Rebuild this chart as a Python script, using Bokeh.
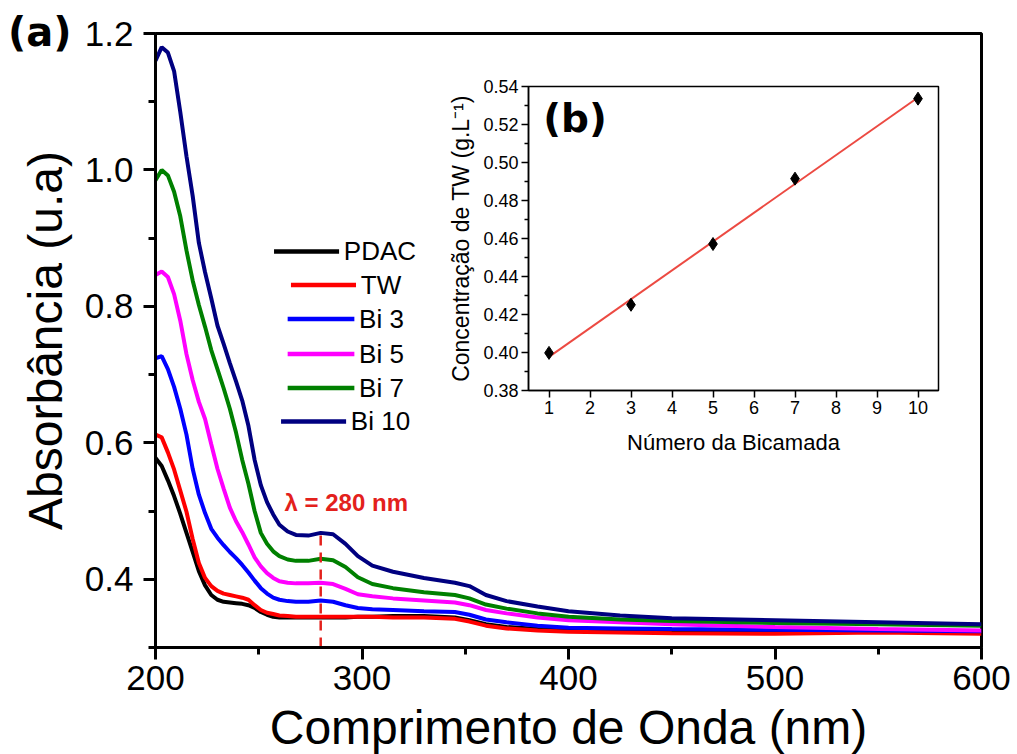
import numpy as np
from bokeh.plotting import figure
from bokeh.models import Range1d, FixedTicker, Label, GridBox, NumeralTickFormatter, Div
from bokeh.embed import file_html
from bokeh.resources import INLINE

# UV-Vis absorption spectra (wavelength in nm, absorbance in a.u.)
wavelength = [200, 203, 206, 209, 212, 215, 218, 221, 224, 227, 230, 233, 236, 239,
              242, 245, 248, 251, 254, 257, 260, 264, 268, 274, 280, 286, 292, 298,
              305, 315, 330, 345, 352, 360, 370, 385, 400, 425, 450, 500, 550, 600]

pdac = [0.578, 0.566, 0.545, 0.522, 0.496, 0.468, 0.440, 0.412, 0.391, 0.377, 0.370,
        0.367, 0.366, 0.365, 0.364, 0.362, 0.358, 0.352, 0.348, 0.345, 0.344,
        0.344, 0.344, 0.344, 0.344, 0.344, 0.344, 0.345, 0.345, 0.346, 0.346,
        0.344, 0.340, 0.334, 0.330, 0.327, 0.326, 0.325, 0.324, 0.323, 0.323, 0.322]
tw = [0.612, 0.608, 0.586, 0.561, 0.530, 0.499, 0.459, 0.424, 0.402, 0.390, 0.383,
      0.379, 0.377, 0.375, 0.373, 0.370, 0.362, 0.355, 0.351, 0.349, 0.347,
      0.346, 0.345, 0.345, 0.345, 0.345, 0.345, 0.345, 0.345, 0.344, 0.344,
      0.342, 0.338, 0.332, 0.328, 0.325, 0.323, 0.322, 0.321, 0.320, 0.322, 0.320]
bi3 = [0.724, 0.727, 0.708, 0.682, 0.650, 0.612, 0.562, 0.524, 0.497, 0.474, 0.461,
       0.450, 0.440, 0.431, 0.421, 0.410, 0.398, 0.387, 0.379, 0.373, 0.370,
       0.368, 0.367, 0.367, 0.369, 0.367, 0.362, 0.358, 0.356, 0.355, 0.353,
       0.352, 0.348, 0.341, 0.337, 0.332, 0.329, 0.328, 0.327, 0.326, 0.325, 0.324]
bi5 = [0.846, 0.851, 0.843, 0.818, 0.779, 0.730, 0.692, 0.660, 0.635, 0.598, 0.562,
       0.533, 0.505, 0.485, 0.469, 0.451, 0.432, 0.419, 0.409, 0.402, 0.397,
       0.395, 0.394, 0.394, 0.395, 0.393, 0.386, 0.378, 0.375, 0.372, 0.369,
       0.366, 0.362, 0.355, 0.350, 0.344, 0.340, 0.337, 0.334, 0.330, 0.327, 0.325]
bi7 = [0.985, 1.000, 0.992, 0.968, 0.932, 0.882, 0.838, 0.802, 0.770, 0.736, 0.708,
       0.680, 0.650, 0.615, 0.575, 0.540, 0.500, 0.468, 0.452, 0.441, 0.434,
       0.429, 0.427, 0.427, 0.430, 0.428, 0.418, 0.403, 0.393, 0.387, 0.381,
       0.377, 0.372, 0.363, 0.357, 0.350, 0.345, 0.341, 0.339, 0.336, 0.334, 0.332]
bi10 = [1.160, 1.180, 1.172, 1.145, 1.085, 1.020, 0.962, 0.893, 0.850, 0.812, 0.772,
        0.745, 0.717, 0.690, 0.662, 0.625, 0.575, 0.538, 0.513, 0.495, 0.480,
        0.470, 0.465, 0.464, 0.468, 0.466, 0.452, 0.434, 0.420, 0.411, 0.402,
        0.395, 0.390, 0.377, 0.368, 0.360, 0.353, 0.347, 0.343, 0.340, 0.337, 0.334]

series_names = ["PDAC", "TW", "Bi 3", "Bi 5", "Bi 7", "Bi 10"]
series_values = [pdac, tw, bi3, bi5, bi7, bi10]
series_colors = ["#000000", "#FF0000", "#0000FF", "#FF00FF", "#008000", "#000080"]

marker_wavelength = 280  # nm

# TW concentration versus number of bilayers
bilayers = [1, 3, 5, 7, 10]
concentration = [0.3998, 0.4251, 0.4571, 0.4915, 0.5336]

x_ticks = [200, 300, 400, 500, 600]
x_minor = [250, 350, 450, 550]
y_ticks = [0.4, 0.6, 0.8, 1.0, 1.2]
y_minor = [0.3, 0.5, 0.7, 0.9, 1.1]

inset_x_ticks = [1, 2, 3, 4, 5, 6, 7, 8, 9, 10]
inset_y_ticks = [0.38, 0.40, 0.42, 0.44, 0.46, 0.48, 0.50, 0.52, 0.54]
inset_y_minor = [0.39, 0.41, 0.43, 0.45, 0.47, 0.49, 0.51, 0.53]

FONT = "Liberation Sans"

# Both plots share one grid cell, so their borders are aligned; use the same
# border sizes for both and shift the inset with its margin.
B_LEFT, B_RIGHT, B_TOP, B_BOTTOM = 155, 36, 33, 107

# ---------------- main spectra panel ----------------
p = figure(frame_width=826, frame_height=614, x_range=Range1d(200, 600), y_range=Range1d(0.3, 1.2),
           output_backend="svg", toolbar_location=None, title_location=None,
           min_border_left=B_LEFT, min_border_right=B_RIGHT,
           min_border_top=B_TOP, min_border_bottom=B_BOTTOM)
p.xgrid.visible = False
p.ygrid.visible = False
p.outline_line_color = "black"
p.outline_line_width = 3
p.outline_line_alpha = 1.0

for ax in (p.xaxis[0], p.yaxis[0]):
    ax.axis_line_width = 3
    ax.major_tick_line_width = 3
    ax.minor_tick_line_width = 3
    ax.major_tick_in = 0
    ax.minor_tick_in = 0
    ax.major_tick_out = 12
    ax.minor_tick_out = 7
    ax.major_label_text_font = FONT
    ax.major_label_text_font_size = "35px"
    ax.major_label_text_color = "black"
    ax.axis_label_text_font = FONT
    ax.axis_label_text_font_size = "48px"
    ax.axis_label_text_font_style = "normal"
    ax.axis_label_text_color = "black"

p.xaxis.ticker = FixedTicker(ticks=x_ticks, minor_ticks=x_minor)
p.yaxis.ticker = FixedTicker(ticks=y_ticks, minor_ticks=y_minor)
p.yaxis.formatter = NumeralTickFormatter(format="0.0")
p.xaxis.axis_label = "Comprimento de Onda (nm)"
p.yaxis.axis_label = "Absorbância (u.a)"
p.xaxis.major_label_standoff = 6
p.yaxis.major_label_standoff = 10
p.xaxis.axis_label_standoff = 8
p.yaxis.axis_label_standoff = 10

for vals, col in zip(series_values, series_colors):
    p.line(wavelength, vals, line_color=col, line_width=4)

# dashed marker at the protein band
band_top = float(np.interp(marker_wavelength, wavelength, bi10))
p.segment(x0=[marker_wavelength], y0=[0.3], x1=[marker_wavelength], y1=[band_top],
          line_color="#E3211C", line_width=2.5, line_dash="10 7")
p.add_layout(Label(x=262.5, y=0.512, text="λ = %d nm" % marker_wavelength,
                   text_font=FONT, text_font_size="24px", text_font_style="bold",
                   text_color="#E3211C", text_baseline="middle", text_align="left"))

# hand-placed legend (entries centred on one column)
legend_y = [0.8806, 0.8314, 0.7815, 0.7302, 0.6804, 0.6314]
legend_x0 = [257.4, 265.6, 264.0, 264.0, 264.0, 260.8]
legend_x1 = [288.9, 297.1, 296.3, 296.3, 296.3, 292.3]
for name, col, ly, lx0, lx1 in zip(series_names, series_colors, legend_y, legend_x0, legend_x1):
    p.segment(x0=[lx0], y0=[ly], x1=[lx1], y1=[ly], line_color=col, line_width=4.5)
    p.add_layout(Label(x=lx1 + 2.3, y=ly, text=name, text_font=FONT, text_font_size="26px",
                       text_baseline="middle", text_align="left", text_color="black"))

# ---------------- inset: concentration vs bilayers ----------------
q = figure(frame_width=410, frame_height=304, x_range=Range1d(0.5, 10.5),
           y_range=Range1d(0.38, 0.54), output_backend="svg", toolbar_location=None,
           title_location=None,
           min_border_left=B_LEFT, min_border_right=B_RIGHT,
           min_border_top=B_TOP, min_border_bottom=B_BOTTOM,
           background_fill_alpha=0, border_fill_alpha=0)
q.margin = (86 - B_TOP, 0, 0, 528 - B_LEFT)
q.xgrid.visible = False
q.ygrid.visible = False
q.outline_line_color = "black"
q.outline_line_width = 1.5
q.outline_line_alpha = 1.0

for ax in (q.xaxis[0], q.yaxis[0]):
    ax.axis_line_width = 1.5
    ax.major_tick_line_width = 1.5
    ax.minor_tick_line_width = 1.5
    ax.major_tick_in = 0
    ax.minor_tick_in = 0
    ax.major_tick_out = 7
    ax.minor_tick_out = 4
    ax.major_label_text_font = FONT
    ax.major_label_text_font_size = "18px"
    ax.major_label_text_color = "black"
    ax.axis_label_text_font = FONT
    ax.axis_label_text_font_style = "normal"
    ax.axis_label_text_color = "black"

q.xaxis.ticker = FixedTicker(ticks=inset_x_ticks, minor_ticks=[])
q.yaxis.ticker = FixedTicker(ticks=inset_y_ticks, minor_ticks=inset_y_minor)
q.yaxis.formatter = NumeralTickFormatter(format="0.00")
q.xaxis.axis_label = "Número da Bicamada"
q.yaxis.axis_label = "Concentração de TW (g.L⁻¹)"
q.xaxis.axis_label_text_font_size = "22px"
q.yaxis.axis_label_text_font_size = "23px"
q.xaxis.major_label_standoff = 3
q.yaxis.major_label_standoff = 3
q.xaxis.axis_label_standoff = 13
q.yaxis.axis_label_standoff = 6

slope, intercept = np.polyfit(bilayers, concentration, 1)
fit_x = [min(bilayers), max(bilayers)]
fit_y = [slope * v + intercept for v in fit_x]
q.line(fit_x, fit_y, line_color="#EC4A42", line_width=2)
q.scatter(bilayers, concentration, marker="diamond", size=13, color="black")

q.add_layout(Label(x=0.86, y=0.5234, text="(b)", text_font="DejaVu Sans",
                   text_font_size="39px", text_font_style="bold", text_color="black",
                   text_baseline="middle", text_align="left"))

# ---------------- panel tag (a) ----------------
tag = Div(text="(a)", width=90, height=46,
          styles={"font-family": "'DejaVu Sans', sans-serif", "font-size": "40px",
                  "font-weight": "bold", "color": "black", "line-height": "1"})
tag.margin = (12, 0, 0, 8)

layout = GridBox(children=[(p, 0, 0), (q, 0, 0), (tag, 0, 0)])

with open("out.html", "w") as f:
    f.write(file_html(layout, INLINE))
